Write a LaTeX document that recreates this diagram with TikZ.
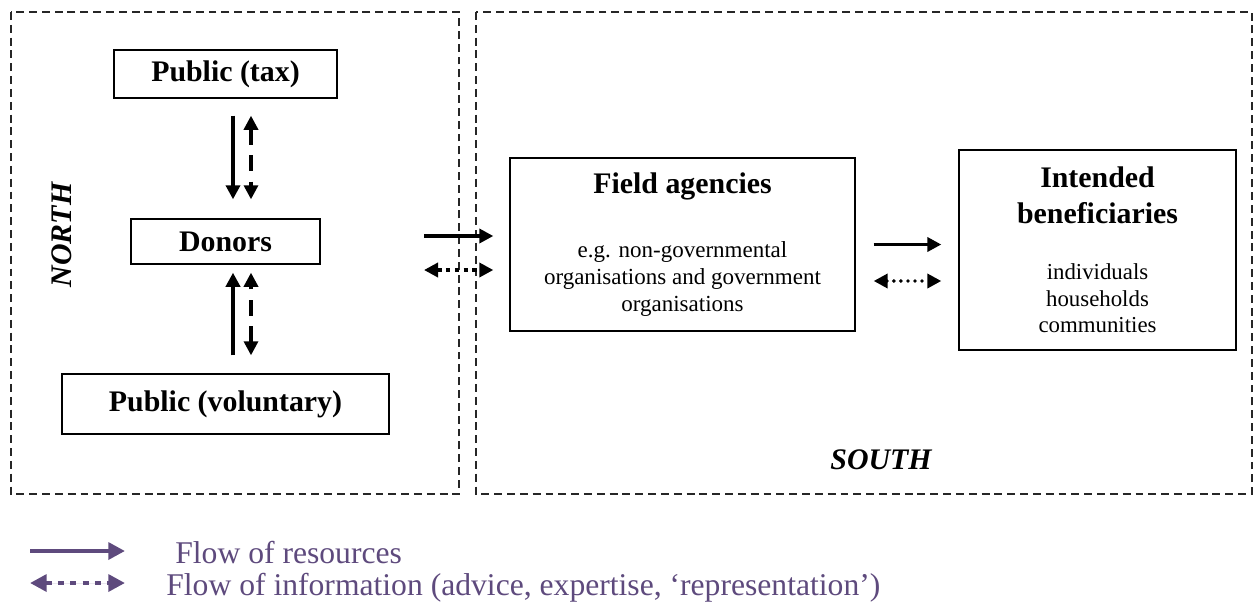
\documentclass[tikz,border=0pt]{standalone}
\usepackage{fontspec}
\setmainfont{Liberation Serif}
\usetikzlibrary{arrows.meta}
\definecolor{legendpurple}{RGB}{94,74,125}

\begin{document}
\begin{tikzpicture}[x=0.02cm, y=-0.02cm,
  box/.style={draw=black, line width=0.8pt, inner sep=0pt, align=center},
  zone/.style={draw=black!85, line width=0.6pt, dash pattern=on 4.5pt off 2.8pt},
  big/.style={font=\bfseries\fontsize{17}{20}\selectfont},
  tip/.style={Triangle[length=8pt,width=8pt]},
  res/.style={line width=2.2pt, -{Triangle[length=8pt,width=8pt]}},
  info/.style={line width=1.8pt, dash pattern=on 9pt off 6pt,
    {Triangle[length=8pt,width=8pt]}-{Triangle[length=8pt,width=8pt]}},
  infodot/.style={line width=2pt, dash pattern=on 2.5pt off 2.5pt,
    {Triangle[length=8pt,width=8pt]}-{Triangle[length=8pt,width=8pt]}},
  inforound/.style={line width=2.2pt, line cap=round, dash pattern=on 0pt off 4pt,
    {Triangle[length=8pt,width=8pt]}-{Triangle[length=8pt,width=8pt]}}]

\useasboundingbox (0,0) rectangle (1257,606);

% north and south zones
\draw [zone] (11,12) rectangle (459,494);
\draw [zone] (476,12) rectangle (1252,494);

\node [rotate=90, font=\bfseries\itshape\fontsize{17}{20}\selectfont] (north) at (62,235) {NORTH};
\node [font=\bfseries\itshape\fontsize{17}{20}\selectfont] (south) at (881,460) {SOUTH};

\node [box, big, minimum width=4.46cm, minimum height=0.96cm] (tax) at (225.5,74) {Public (tax)};
\node [box, big, minimum width=3.78cm, minimum height=0.9cm] (donors) at (225.5,241.5) {Donors};
\node [box, big, minimum width=6.54cm, minimum height=1.2cm] (vol) at (225.5,404) {Public (voluntary)};

\node [box, minimum width=6.9cm, minimum height=3.46cm, font=\fontsize{13.1}{15.4}\selectfont] (field) at (682.5,244.5)
  {{\bfseries\fontsize{17}{20}\selectfont Field agencies}\\[21pt]
   e.g. non-governmental\\organisations and government\\organisations};
\node [box, minimum width=5.54cm, minimum height=4cm, font=\fontsize{13}{15}\selectfont] (benef) at (1097.5,250)
  {{\bfseries\fontsize{17}{20}\selectfont Intended}\\[5pt]
   {\bfseries\fontsize{17}{20}\selectfont beneficiaries}\\[17.4pt]
   individuals\\households\\communities};

% flows inside the north
\draw [res, shorten <=0.34cm, shorten >=0.38cm] ([xshift=0.15cm]tax.south) -- ([xshift=0.15cm]donors.north);
\draw [info, shorten <=0.34cm, shorten >=0.38cm] ([xshift=0.51cm]tax.south) -- ([xshift=0.51cm]donors.north);
\draw [res, shorten <=0.36cm, shorten >=0.16cm] ([xshift=0.15cm]vol.north) -- ([xshift=0.15cm]donors.south);
\draw [info, shorten <=0.36cm, shorten >=0.16cm] ([xshift=0.51cm]vol.north) -- ([xshift=0.51cm]donors.south);

% north to south
\coordinate (resfrom) at (424,236);
\coordinate (infofrom) at (424,270);
\draw [res, shorten >=0.32cm] (resfrom) -- (resfrom -| field.west);
\draw [infodot, shorten >=0.32cm] (infofrom) -- (infofrom -| field.west);

% field to beneficiaries
\draw [res, shorten <=0.36cm, shorten >=0.34cm] (field.east) -- (field.east -| benef.west);
\draw [inforound, shorten <=0.36cm, shorten >=0.34cm] ([yshift=-0.73cm]field.east) -- ([yshift=-0.73cm]field.east -| benef.west);

% legend
\coordinate (legresA) at (30,551);
\coordinate (legresB) at (125,551);
\coordinate (leginfoA) at (30,583);
\coordinate (leginfoB) at (125,583);
\draw [line width=2.4pt, draw=legendpurple, fill=legendpurple,
  -{Triangle[length=9.5pt,width=9.5pt]}] (legresA) -- (legresB);
\draw [line width=2.8pt, dash pattern=on 3.5pt off 3.5pt, draw=legendpurple, fill=legendpurple,
  {Triangle[length=9.5pt,width=9.5pt]}-{Triangle[length=9.5pt,width=9.5pt]}] (leginfoA) -- (leginfoB);
\node [anchor=west, inner sep=0pt, text=legendpurple, font=\fontsize{18}{21}\selectfont] (legres) at (175,553) {Flow of resources};
\node [anchor=west, inner sep=0pt, text=legendpurple, font=\fontsize{18}{21}\selectfont] (leginfo) at (166,588) {Flow of information (advice, expertise, ‘representation’)};

\end{tikzpicture}
\end{document}
